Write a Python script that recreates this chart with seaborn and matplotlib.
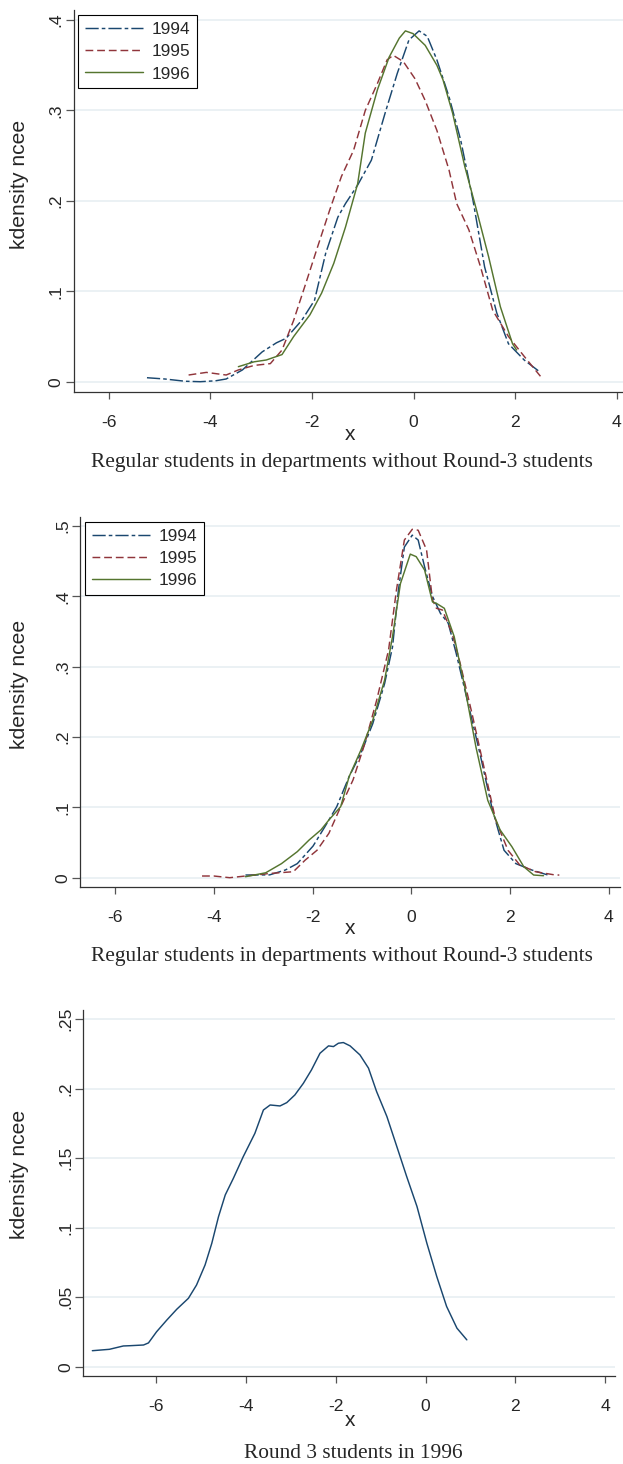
import pandas as pd
import seaborn as sns
import matplotlib.pyplot as plt
import matplotlib.transforms as mtransforms

# Panel 1: regular students (first group), kernel density of ncee
p1_x_1994 = [-5.25, -4.9, -4.5, -4.2, -3.9, -3.69, -3.37, -2.98, -2.7, -2.51, -2.2, -1.95, -1.73, -1.49,
             -1.34, -1.1, -0.83, -0.56, -0.32, -0.09, 0.11, 0.27, 0.46, 0.7, 0.93, 1.17, 1.4, 1.64, 1.87,
             2.18, 2.46]
p1_y_1994 = [0.0044, 0.003, 0.0005, 0.0, 0.001, 0.003, 0.013, 0.033, 0.043, 0.048, 0.068, 0.090, 0.142,
             0.182, 0.197, 0.2175, 0.245, 0.297, 0.341, 0.378, 0.388, 0.382, 0.356, 0.315, 0.267, 0.201,
             0.127, 0.076, 0.042, 0.024, 0.012]
p1_x_1995 = [-4.43, -4.08, -3.69, -3.45, -3.14, -2.82, -2.59, -2.36, -2.12, -1.89, -1.65, -1.42, -1.18,
             -0.95, -0.71, -0.52, -0.40, -0.2, 0.03, 0.23, 0.46, 0.7, 0.85, 1.09, 1.32, 1.56, 1.87, 2.18, 2.5]
p1_y_1995 = [0.0074, 0.0103, 0.0074, 0.013, 0.018, 0.020, 0.035, 0.068, 0.109, 0.149, 0.19, 0.227, 0.256,
             0.30, 0.33, 0.356, 0.361, 0.354, 0.335, 0.311, 0.278, 0.234, 0.197, 0.168, 0.127, 0.079, 0.05,
             0.028, 0.006]
p1_x_1996 = [-3.45, -3.14, -2.9, -2.59, -2.36, -2.04, -1.81, -1.57, -1.34, -1.1, -0.95, -0.71, -0.48, -0.28,
             -0.16, -0.01, 0.23, 0.46, 0.58, 0.77, 1.01, 1.24, 1.48, 1.71, 1.95, 2.03]
p1_y_1996 = [0.0166, 0.022, 0.024, 0.030, 0.05, 0.074, 0.098, 0.131, 0.171, 0.219, 0.275, 0.323, 0.359,
             0.38, 0.388, 0.385, 0.372, 0.35, 0.334, 0.297, 0.238, 0.19, 0.138, 0.083, 0.042, 0.035]

# Panel 2: regular students (second group)
p2_x_1994 = [-3.36, -2.87, -2.55, -2.31, -1.99, -1.75, -1.51, -1.26, -1.02, -0.78, -0.54, -0.38, -0.26,
             -0.14, 0.02, 0.14, 0.27, 0.43, 0.59, 0.75, 0.91, 1.15, 1.39, 1.63, 1.76, 1.88, 2.12, 2.44, 2.76]
p2_y_1994 = [0.0038, 0.004, 0.011, 0.020, 0.045, 0.0725, 0.101, 0.1436, 0.177, 0.219, 0.276, 0.328, 0.409,
             0.47, 0.487, 0.48, 0.442, 0.40, 0.376, 0.3616, 0.319, 0.248, 0.177, 0.101, 0.068, 0.039, 0.020,
             0.011, 0.004]
p2_x_1995 = [-4.24, -4.0, -3.68, -3.36, -2.87, -2.39, -2.15, -1.91, -1.67, -1.43, -1.18, -0.94, -0.70,
             -0.46, -0.30, -0.14, 0.02, 0.14, 0.31, 0.43, 0.51, 0.63, 0.83, 0.99, 1.23, 1.47, 1.71, 1.96,
             2.20, 2.52, 2.92, 3.0]
p2_y_1995 = [0.0024, 0.0024, 0.0, 0.0024, 0.006, 0.0085, 0.025, 0.039, 0.063, 0.101, 0.139, 0.191, 0.2526,
             0.3237, 0.409, 0.48, 0.4953, 0.494, 0.466, 0.395, 0.383, 0.3806, 0.347, 0.305, 0.2336, 0.158,
             0.082, 0.039, 0.018, 0.0085, 0.0038, 0.0038]
p2_x_1996 = [-3.36, -2.95, -2.63, -2.31, -2.07, -1.83, -1.67, -1.43, -1.26, -1.02, -0.78, -0.54, -0.38,
             -0.22, -0.02, 0.10, 0.27, 0.43, 0.51, 0.67, 0.87, 1.07, 1.31, 1.55, 1.80, 2.04, 2.28, 2.48, 2.68]
p2_y_1996 = [0.0014, 0.007, 0.020, 0.037, 0.0536, 0.068, 0.082, 0.101, 0.1436, 0.1815, 0.224, 0.281,
             0.3427, 0.418, 0.46, 0.4564, 0.4374, 0.392, 0.39, 0.383, 0.3427, 0.276, 0.186, 0.110, 0.068,
             0.044, 0.0156, 0.0038, 0.0028]

# Panel 3: round 3 students, 1996 only
p3_x = [-7.42, -7.04, -6.73, -6.58, -6.28, -6.17, -5.99, -5.76, -5.54, -5.28, -5.10, -4.91, -4.76, -4.61,
        -4.46, -4.28, -4.06, -3.80, -3.61, -3.46, -3.24, -3.09, -2.91, -2.72, -2.54, -2.35, -2.16, -2.05,
        -1.94, -1.83, -1.68, -1.46, -1.27, -1.09, -0.86, -0.64, -0.42, -0.19, 0.03, 0.25, 0.47, 0.70, 0.92]
p3_y = [0.0115, 0.0125, 0.0149, 0.0151, 0.0156, 0.0171, 0.0251, 0.0336, 0.0413, 0.0492, 0.0587, 0.0731,
        0.0887, 0.1079, 0.1235, 0.1354, 0.1510, 0.1678, 0.1846, 0.1882, 0.1875, 0.1899, 0.1954, 0.2038,
        0.2134, 0.2254, 0.2307, 0.2302, 0.2326, 0.2331, 0.2307, 0.2242, 0.2147, 0.1979, 0.1799, 0.1584,
        0.1368, 0.1152, 0.0888, 0.0649, 0.0433, 0.0277, 0.0193]

years = ["1994", "1995", "1996"]
colors = {"1994": "#1a476f", "1995": "#90353b", "1996": "#55752f"}
styles = {"1994": (0, (9.5, 2.2, 2.6, 2.2)), "1995": (0, (5.6, 2.8)), "1996": "-"}

caption_reg = "Regular students in departments without Round-3 students"
caption_r3 = "Round 3 students in 1996"

sns.set_style("white")
plt.rcParams["font.family"] = ["Liberation Sans", "DejaVu Sans"]
plt.rcParams["lines.scale_dashes"] = False

W, H = 623, 1464
fig = plt.figure(figsize=(W / 100, H / 100), dpi=100)
# pixel coordinates measured from the top-left corner of the image
PX = mtransforms.Affine2D().scale(1 / W, -1 / H).translate(0, 1) + fig.transFigure


def make_axes(left, top, right, bottom):
    return fig.add_axes([left / W, 1 - bottom / H, (right - left) / W, (bottom - top) / H])


def style_axes(ax, xlim, ylim, yticks, yticklabels, ylab_y, xlab_y):
    ax.set_xlim(*xlim)
    ax.set_ylim(*ylim)
    ax.set_xticks([-6, -4, -2, 0, 2, 4])
    ax.set_xticklabels(["-6", "-4", "-2", "0", "2", "4"])
    ax.set_yticks(yticks)
    ax.set_yticklabels(yticklabels)
    ax.grid(axis="y", color="#e6eef1", linewidth=1.1)
    ax.grid(axis="x", visible=False)
    ax.set_axisbelow(True)
    for side in ["top", "right"]:
        ax.spines[side].set_visible(False)
    for side in ["left", "bottom"]:
        ax.spines[side].set_color("#333333")
        ax.spines[side].set_linewidth(0.9)
    ax.tick_params(axis="x", length=5, width=0.9, color="#555555", pad=11.5, labelsize=12.6, bottom=True)
    ax.tick_params(axis="y", length=5.5, width=0.9, color="#555555", pad=1.5, labelsize=12.6,
                   labelrotation=90, left=True)
    for lab in ax.get_yticklabels():
        lab.set_va("center")
    ax.set_ylabel("kdensity ncee", fontsize=15.2, va="center")
    ax.yaxis.set_label_coords(19.5, ylab_y, transform=PX)
    ax.set_xlabel("x", fontsize=15, va="center")
    ax.xaxis.set_label_coords(349.6, xlab_y, transform=PX)


def draw_years(ax, xs, ys, legend_xy):
    for yr in years:
        df = pd.DataFrame({"x": xs[yr], "density": ys[yr]})
        sns.lineplot(data=df, x="x", y="density", ax=ax, color=colors[yr], linestyle=styles[yr],
                     linewidth=1.05, estimator=None, errorbar=None, label=yr)
    ax.legend(loc="upper left", bbox_to_anchor=legend_xy, bbox_transform=PX, borderaxespad=0,
              fontsize=12.4, handlelength=3.37, handletextpad=0.5, labelspacing=0.42,
              borderpad=0.4, fancybox=False, framealpha=1, edgecolor="black")
    ax.get_legend().get_frame().set_linewidth(0.8)


# --- panel 1
ax1 = make_axes(73.5, 10, 623, 391.7)
draw_years(ax1, {"1994": p1_x_1994, "1995": p1_x_1995, "1996": p1_x_1996},
           {"1994": p1_y_1994, "1995": p1_y_1995, "1996": p1_y_1996}, (78.3, 15))
style_axes(ax1, (-6.697, 4.126), (-0.01106, 0.4111), [0, 0.1, 0.2, 0.3, 0.4],
           ["0", ".1", ".2", ".3", ".4"], 184, 435)
fig.text(341.7, 463, caption_reg, transform=PX, ha="center", va="center",
         family="Liberation Serif", fontsize=15.4)

# --- panel 2
ax2 = make_axes(80.3, 516.7, 620, 887.3)
draw_years(ax2, {"1994": p2_x_1994, "1995": p2_x_1995, "1996": p2_x_1996},
           {"1994": p2_y_1994, "1995": p2_y_1995, "1996": p2_y_1996}, (85.4, 521.7))
style_axes(ax2, (-6.707, 4.23), (-0.01365, 0.5132), [0, 0.1, 0.2, 0.3, 0.4, 0.5],
           ["0", ".1", ".2", ".3", ".4", ".5"], 684, 928)
fig.text(341.7, 956.7, caption_reg, transform=PX, ha="center", va="center",
         family="Liberation Serif", fontsize=15.4)

# --- panel 3
ax3 = make_axes(83.4, 1010, 615, 1376)
sns.lineplot(x=p3_x, y=p3_y, ax=ax3, color=colors["1994"], linewidth=1.05, estimator=None, errorbar=None)
style_axes(ax3, (-7.619, 4.22), (-0.00669, 0.2565), [0, 0.05, 0.1, 0.15, 0.2, 0.25],
           ["0", ".05", ".1", ".15", ".2", ".25"], 1174, 1420.7)
fig.text(353.6, 1453.3, caption_r3, transform=PX, ha="center", va="center",
         family="Liberation Serif", fontsize=15.4)

fig.savefig("out.png", dpi=100)
